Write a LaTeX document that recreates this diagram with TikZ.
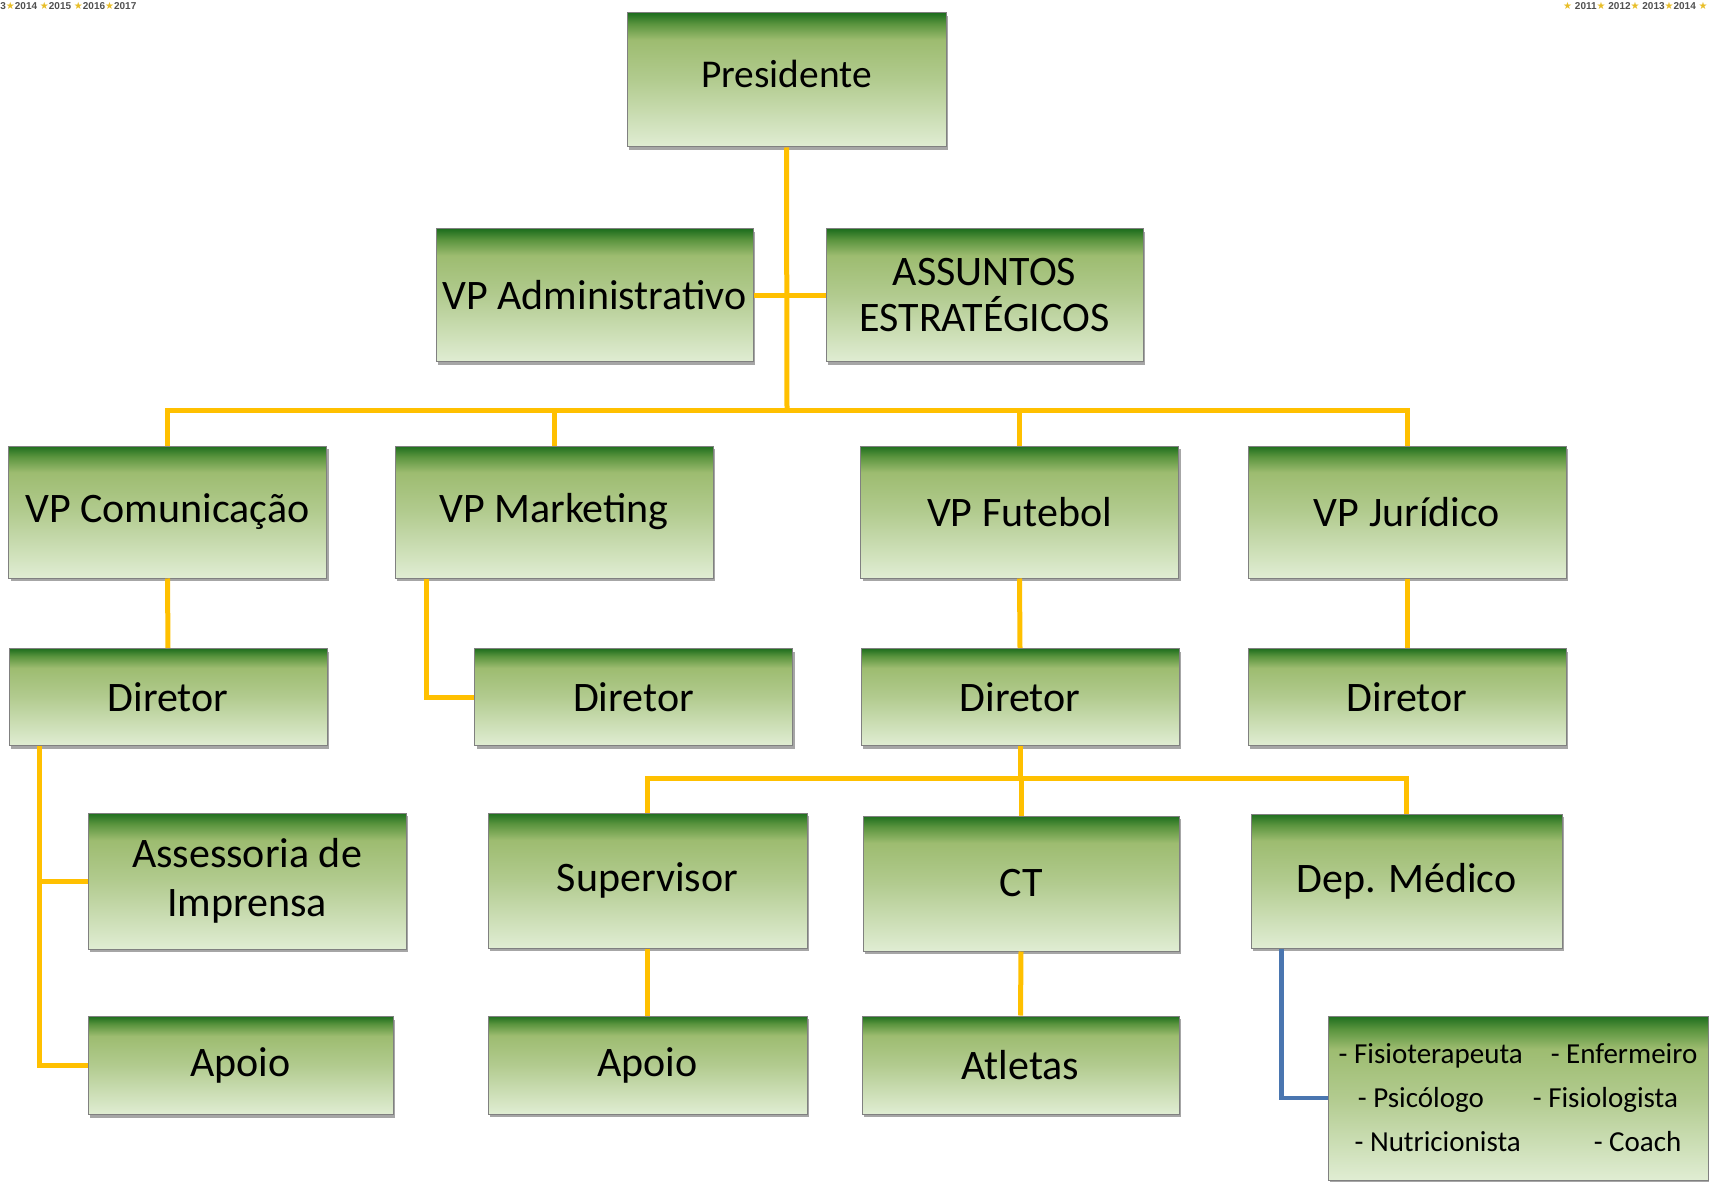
\documentclass[tikz,border=0pt]{standalone}
\usepackage{fontspec}
\setmainfont{Carlito}
\newfontfamily\yearfont{Liberation Sans}
\newfontfamily\starfont{DejaVu Sans}
\usetikzlibrary{shadows,calc}

\definecolor{gtop}{RGB}{30,110,30}
\definecolor{gdeep}{RGB}{90,148,62}
\definecolor{gmid}{RGB}{157,188,112}
\definecolor{gmidlow}{RGB}{178,203,143}
\definecolor{gbot}{RGB}{224,237,211}
\definecolor{linkyellow}{RGB}{255,192,0}
\definecolor{linkblue}{RGB}{74,118,176}
\definecolor{yeargray}{RGB}{80,80,80}
\definecolor{stargold}{RGB}{232,190,40}

\pgfdeclareverticalshading{boxgreen}{100bp}{color(0bp)=(gbot); color(25bp)=(gbot); color(50bp)=(gmidlow); color(65bp)=(gmid); color(71bp)=(gdeep); color(75bp)=(gtop); color(100bp)=(gtop)}

\newcommand{\yr}[1]{{\starfont\color{stargold}★}#1}

\begin{document}
\begin{tikzpicture}[x=0.5pt,y=-0.5pt,
  box/.style={rectangle, draw={rgb,255:red,128;green,128;blue,128}, line width=0.5pt,
    shading=boxgreen, inner sep=0pt, align=center,
    drop shadow={shadow xshift=1.2pt, shadow yshift=-1.6pt, opacity=0.35, fill=black},
    minimum width=159pt, font=\fontsize{21}{24.5}\selectfont},
  tall/.style={minimum height=67pt},
  flat/.style={minimum height=49pt},
  link/.style={draw=linkyellow, line width=2.5pt},
  bluelink/.style={draw=linkblue, line width=2.3pt},
  years/.style={inner sep=0pt, text=yeargray, font=\yearfont\bfseries\fontsize{5}{6}\selectfont}]
\useasboundingbox (0,0) rectangle (1709,1182);

% year strips in the corners
\node[years, anchor=west] (yrsl) at (0,6) {3\yr{2014} \yr{2015} \yr{2016}\yr{2017}};
\node[years, anchor=east] (yrsr) at (1708,6) {\yr{} 2011\yr{} 2012\yr{} 2013\yr{2014} \yr{}};

% top
\node[box, tall, minimum width=159.5pt, font=\fontsize{19.7}{23}\selectfont, text depth=6.5pt] (pres) at (786.5,80) {Presidente};
\node[box, tall, minimum width=158.5pt, minimum height=66.5pt] (vpadm) at (594.5,295.5) {VP Administrativo};
\node[box, tall, minimum width=158.5pt, minimum height=66.5pt, font=\fontsize{21}{23}\selectfont] (assunt) at (984.5,295.5) {ASSUNTOS\\ESTRATÉGICOS};

% VPs
\node[box, tall, minimum height=66pt] (vpcom) at (167.5,512) {VP Comunicação};
\node[box, tall, minimum height=66pt] (vpmkt) at (554,512) {VP Marketing};
\node[box, tall, minimum height=66pt] (vpfut) at (1019.5,512) {VP Futebol};
\node[box, tall, minimum height=66pt] (vpjur) at (1407,512) {VP Jurídico};

% diretores
\node[box, flat, minimum height=48.5pt] (dir1) at (168,697) {Diretor};
\node[box, flat, minimum height=48.5pt] (dir2) at (633.5,697) {Diretor};
\node[box, flat, minimum height=48.5pt] (dir3) at (1020,697) {Diretor};
\node[box, flat, minimum height=48.5pt] (dir4) at (1407,697) {Diretor};

% third level
\node[box, minimum height=68pt] (assess) at (247,881) {Assessoria de\\Imprensa};
\node[box, minimum height=67.5pt, minimum width=159.5pt] (superv) at (647.5,880.5) {Supervisor};
\node[box, minimum height=67.5pt, minimum width=158pt] (ct) at (1021,883.5) {CT};
\node[box, minimum height=67pt, minimum width=155.5pt] (depmed) at (1406.5,881) {Dep. Médico};

% bottom
\node[box, flat, minimum width=152.5pt] (apoio1) at (240.5,1065.5) {Apoio};
\node[box, flat, minimum width=159.5pt] (apoio2) at (647.5,1065) {Apoio};
\node[box, flat, minimum width=158.5pt] (atletas) at (1020.5,1065) {Atletas};
\node[box, minimum width=190pt, minimum height=82pt, font=\fontsize{14.5}{22}\selectfont] (lista) at (1518,1098)
  {- Fisioterapeuta\hspace{14pt}- Enfermeiro\\- Psicólogo\hspace{24.5pt}- Fisiologista\\- Nutricionista\hspace{36.5pt}- Coach};

% connectors
\coordinate (bus) at (787,410);
\coordinate (bus2) at (1020,778);
\draw[link] (pres.south) -- (bus);
\draw[link] (vpadm.east) -- (assunt.west);
\draw[link] (vpcom.north) |- (bus) -| (vpjur.north);
\draw[link] (vpmkt.north) -- (vpmkt.north |- bus);
\draw[link] (vpfut.north) -- (vpfut.north |- bus);

\draw[link] (vpcom.south) -- (dir1.north);
\draw[link] ($(vpmkt.south west)+(32,0)$) |- (dir2.west);
\draw[link] (vpfut.south) -- (dir3.north);
\draw[link] (vpjur.south) -- (dir4.north);

\coordinate (d1) at ($(dir1.south west)+(31,0)$);
\draw[link] (d1) |- (apoio1.west);
\draw[link] (d1 |- assess.west) -- (assess.west);

\draw[link] (dir3.south) -- (bus2);
\draw[link] (superv.north) |- (bus2) -| (depmed.north);
\draw[link] (ct.north) -- (ct.north |- bus2);
\draw[link] (superv.south) -- (apoio2.north);
\draw[link] (ct.south) -- (atletas.north);

\draw[bluelink] ($(depmed.south west)+(31,0)$) |- (lista.west);

\end{tikzpicture}
\end{document}
